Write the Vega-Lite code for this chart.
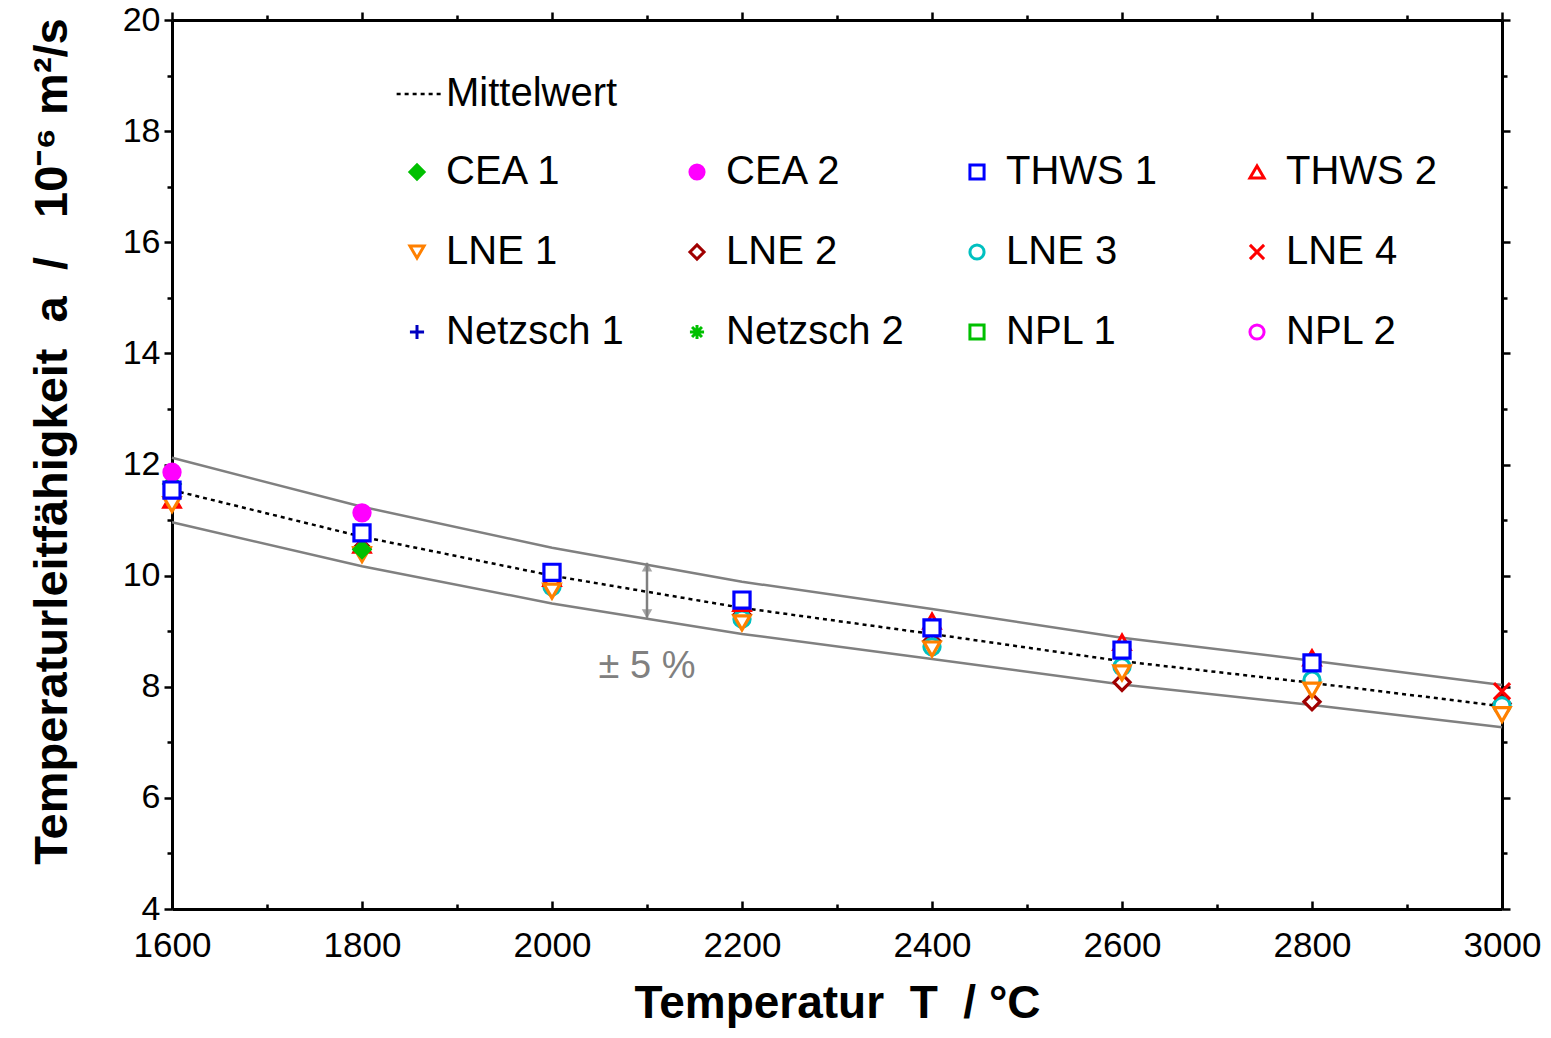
{
  "$schema": "https://vega.github.io/schema/vega-lite/v6.json",
  "width": 1330,
  "height": 889,
  "autosize": {"type": "none"},
  "padding": {"left": 172, "top": 20, "right": 49, "bottom": 129},
  "background": "white",
  "config": {
    "font": "Liberation Sans",
    "view": {"stroke": null},
    "axis": {"grid": false, "domainColor": "black", "domainWidth": 3, "tickColor": "black", "tickWidth": 2.5, "labelFont": "Liberation Sans", "labelColor": "black", "titleColor": "black", "titleFont": "Liberation Sans"}
  },
  "datasets": {
    "bands": [
      {"T": 1600, "v": 12.12, "b": "oben"}, {"T": 1800, "v": 11.24, "b": "oben"}, {"T": 2000, "v": 10.50, "b": "oben"}, {"T": 2200, "v": 9.89, "b": "oben"},
      {"T": 2400, "v": 9.40, "b": "oben"}, {"T": 2600, "v": 8.88, "b": "oben"}, {"T": 2800, "v": 8.47, "b": "oben"}, {"T": 3000, "v": 8.03, "b": "oben"},
      {"T": 1600, "v": 10.96, "b": "unten"}, {"T": 1800, "v": 10.17, "b": "unten"}, {"T": 2000, "v": 9.50, "b": "unten"}, {"T": 2200, "v": 8.95, "b": "unten"},
      {"T": 2400, "v": 8.50, "b": "unten"}, {"T": 2600, "v": 8.04, "b": "unten"}, {"T": 2800, "v": 7.67, "b": "unten"}, {"T": 3000, "v": 7.27, "b": "unten"}
    ],
    "mean": [
      {"T": 1600, "v": 11.54, "s": "Mittelwert"}, {"T": 1800, "v": 10.70, "s": "Mittelwert"}, {"T": 2000, "v": 10.00, "s": "Mittelwert"}, {"T": 2200, "v": 9.42, "s": "Mittelwert"},
      {"T": 2400, "v": 8.95, "s": "Mittelwert"}, {"T": 2600, "v": 8.46, "s": "Mittelwert"}, {"T": 2800, "v": 8.07, "s": "Mittelwert"}, {"T": 3000, "v": 7.65, "s": "Mittelwert"}
    ],
    "points": [
      {"T": 1800, "v": 10.50, "lab": "LNE 2"}, {"T": 2000, "v": 9.85, "lab": "LNE 2"}, {"T": 2200, "v": 9.30, "lab": "LNE 2"}, {"T": 2400, "v": 8.82, "lab": "LNE 2"},
      {"T": 2600, "v": 8.08, "lab": "LNE 2"}, {"T": 2800, "v": 7.73, "lab": "LNE 2"}, {"T": 3000, "v": 7.70, "lab": "LNE 2"},
      {"T": 2000, "v": 9.80, "lab": "LNE 3"}, {"T": 2200, "v": 9.22, "lab": "LNE 3"}, {"T": 2400, "v": 8.72, "lab": "LNE 3"}, {"T": 2600, "v": 8.36, "lab": "LNE 3"},
      {"T": 2800, "v": 8.12, "lab": "LNE 3"}, {"T": 3000, "v": 7.66, "lab": "LNE 3"},
      {"T": 3000, "v": 7.92, "lab": "LNE 4"},
      {"T": 1600, "v": 11.36, "lab": "THWS 2"}, {"T": 1800, "v": 10.55, "lab": "THWS 2"}, {"T": 2000, "v": 9.95, "lab": "THWS 2"}, {"T": 2200, "v": 9.50, "lab": "THWS 2"},
      {"T": 2400, "v": 9.18, "lab": "THWS 2"}, {"T": 2600, "v": 8.80, "lab": "THWS 2"}, {"T": 2800, "v": 8.52, "lab": "THWS 2"},
      {"T": 1600, "v": 11.28, "lab": "LNE 1"}, {"T": 1800, "v": 10.38, "lab": "LNE 1"}, {"T": 2000, "v": 9.72, "lab": "LNE 1"}, {"T": 2200, "v": 9.15, "lab": "LNE 1"},
      {"T": 2400, "v": 8.68, "lab": "LNE 1"}, {"T": 2600, "v": 8.25, "lab": "LNE 1"}, {"T": 2800, "v": 7.94, "lab": "LNE 1"}, {"T": 3000, "v": 7.50, "lab": "LNE 1"},
      {"T": 1600, "v": 11.65, "lab": "CEA 1"}, {"T": 1800, "v": 10.47, "lab": "CEA 1"},
      {"T": 1600, "v": 11.86, "lab": "CEA 2"}, {"T": 1800, "v": 11.13, "lab": "CEA 2"},
      {"T": 1600, "v": 11.54, "lab": "THWS 1"}, {"T": 1800, "v": 10.77, "lab": "THWS 1"}, {"T": 2000, "v": 10.06, "lab": "THWS 1"}, {"T": 2200, "v": 9.56, "lab": "THWS 1"},
      {"T": 2400, "v": 9.06, "lab": "THWS 1"}, {"T": 2600, "v": 8.66, "lab": "THWS 1"}, {"T": 2800, "v": 8.43, "lab": "THWS 1"}
    ],
    "arrow": [{"T": 2100, "lo": 9.24, "hi": 10.23, "txt": "± 5 %", "ty": 8.35}]
  },
  "layer": [
    {
      "data": {"name": "bands"},
      "mark": {"type": "line", "color": "#808080", "strokeWidth": 2.5},
      "encoding": {
        "x": {"field": "T", "type": "quantitative", "scale": {"domain": [1600, 3000], "nice": false, "zero": false},
              "axis": {"orient": "bottom", "values": [1600, 1800, 2000, 2200, 2400, 2600, 2800, 3000], "format": "d", "tickSize": -8, "labelPadding": 27, "labelFontSize": 35, "labelFlush": false,
                       "title": "Temperatur\u00a0\u00a0T\u00a0\u00a0/ °C", "titleFontSize": 46, "titleFontWeight": "bold", "titlePadding": 18}},
        "y": {"field": "v", "type": "quantitative", "scale": {"domain": [4, 20], "nice": false, "zero": false},
              "axis": {"orient": "left", "values": [4, 6, 8, 10, 12, 14, 16, 18, 20], "tickSize": 8, "labelPadding": 4, "labelFontSize": 34, "labelFlush": false,
                       "title": "Temperaturleitfähigkeit\u00a0\u00a0a\u00a0\u00a0/\u00a0\u00a0 10⁻⁶ m²/s", "titleFontSize": 47, "titleFontWeight": "bold", "titlePadding": 46, "titleY": 421}},
        "detail": {"field": "b"}
      }
    },
    {
      "data": {"name": "mean"},
      "mark": {"type": "line", "color": "black", "strokeWidth": 2.5},
      "encoding": {
        "x": {"field": "T", "type": "quantitative", "axis": {"orient": "bottom", "values": [1700, 1900, 2100, 2300, 2500, 2700, 2900], "tickSize": -5, "labels": false, "domain": false, "title": null}},
        "y": {"field": "v", "type": "quantitative", "axis": {"orient": "left", "values": [5, 7, 9, 11, 13, 15, 17, 19], "tickSize": 5, "labels": false, "domain": false, "title": null}},
        "strokeDash": {"field": "s", "type": "nominal", "scale": {"domain": ["Mittelwert"], "range": [[4, 4]]},
                       "legend": {"title": null, "orient": "none", "legendX": 223, "legendY": 50, "symbolType": "stroke", "symbolSize": 2000, "symbolStrokeColor": "black", "symbolStrokeWidth": 2.5,
                                  "labelFontSize": 40, "labelOffset": 3, "labelLimit": 400, "labelColor": "black", "padding": 0}}
      }
    },
    {
      "data": {"name": "points"},
      "mark": {"type": "point", "filled": true, "size": 260, "strokeWidth": 3.2, "opacity": 1},
      "encoding": {
        "x": {"field": "T", "type": "quantitative", "axis": {"orient": "top", "values": [1600, 1800, 2000, 2200, 2400, 2600, 2800, 3000], "tickSize": 8, "labels": false, "title": null}},
        "y": {"field": "v", "type": "quantitative", "axis": {"orient": "right", "values": [4, 6, 8, 10, 12, 14, 16, 18, 20], "tickSize": 8, "labels": false, "title": null}},
        "shape": {"field": "lab", "type": "nominal",
                  "scale": {"domain": ["CEA 1", "CEA 2", "THWS 1", "THWS 2", "LNE 1", "LNE 2", "LNE 3", "LNE 4", "Netzsch 1", "Netzsch 2", "NPL 1", "NPL 2"],
                            "range": ["diamond", "circle", "square", "triangle-up", "triangle-down", "diamond", "circle", "M-1,-1L1,1M-1,1L1,-1", "M-1,0L1,0M0,-1L0,1", "M-1,0L1,0M0,-1L0,1M-0.7,-0.7L0.7,0.7M-0.7,0.7L0.7,-0.7", "square", "circle"]},
                  "legend": {"title": null, "orient": "none", "direction": "horizontal", "legendX": 225, "legendY": 132, "columns": 4, "gridAlign": "all", "columnPadding": 53, "rowPadding": 40,
                             "symbolSize": 200, "symbolStrokeWidth": 3, "labelFontSize": 40, "labelOffset": 9, "labelLimit": 400, "labelColor": "black", "padding": 0, "symbolOpacity": 1}},
        "stroke": {"field": "lab", "type": "nominal",
                   "scale": {"domain": ["CEA 1", "CEA 2", "THWS 1", "THWS 2", "LNE 1", "LNE 2", "LNE 3", "LNE 4", "Netzsch 1", "Netzsch 2", "NPL 1", "NPL 2"],
                             "range": ["#00c000", "#ff00ff", "#0000ff", "#ff0000", "#ff8000", "#a00000", "#00c0c0", "#ff0000", "#0000c0", "#00c000", "#00c000", "#ff00ff"]}},
        "fill": {"field": "lab", "type": "nominal",
                 "scale": {"domain": ["CEA 1", "CEA 2", "THWS 1", "THWS 2", "LNE 1", "LNE 2", "LNE 3", "LNE 4", "Netzsch 1", "Netzsch 2", "NPL 1", "NPL 2"],
                           "range": ["#00c000", "#ff00ff", "white", "white", "white", "white", "white", "white", "white", "white", "white", "white"]}}
      }
    },
    {
      "data": {"name": "arrow"},
      "mark": {"type": "rule", "color": "#808080", "strokeWidth": 2.5},
      "encoding": {
        "x": {"field": "T", "type": "quantitative", "axis": {"orient": "top", "values": [1700, 1900, 2100, 2300, 2500, 2700, 2900], "tickSize": 5, "labels": false, "domain": false, "title": null}},
        "y": {"field": "lo", "type": "quantitative", "axis": {"orient": "right", "values": [5, 7, 9, 11, 13, 15, 17, 19], "tickSize": 5, "labels": false, "domain": false, "title": null}},
        "y2": {"field": "hi"}
      }
    },
    {
      "data": {"name": "arrow"},
      "mark": {"type": "point", "shape": "triangle-up", "filled": true, "color": "#808080", "size": 110, "yOffset": 4},
      "encoding": {
        "x": {"field": "T", "type": "quantitative", "axis": null},
        "y": {"field": "hi", "type": "quantitative", "axis": null}
      }
    },
    {
      "data": {"name": "arrow"},
      "mark": {"type": "point", "shape": "triangle-down", "filled": true, "color": "#808080", "size": 110, "yOffset": -4},
      "encoding": {
        "x": {"field": "T", "type": "quantitative", "axis": null},
        "y": {"field": "lo", "type": "quantitative", "axis": null}
      }
    },
    {
      "data": {"name": "arrow"},
      "mark": {"type": "text", "color": "#808080", "fontSize": 38, "baseline": "middle", "align": "center", "font": "Liberation Sans"},
      "encoding": {
        "x": {"field": "T", "type": "quantitative", "axis": null},
        "y": {"field": "ty", "type": "quantitative", "axis": null},
        "text": {"field": "txt"}
      }
    }
  ],
  "resolve": {"axis": {"x": "independent", "y": "independent"}}
}
